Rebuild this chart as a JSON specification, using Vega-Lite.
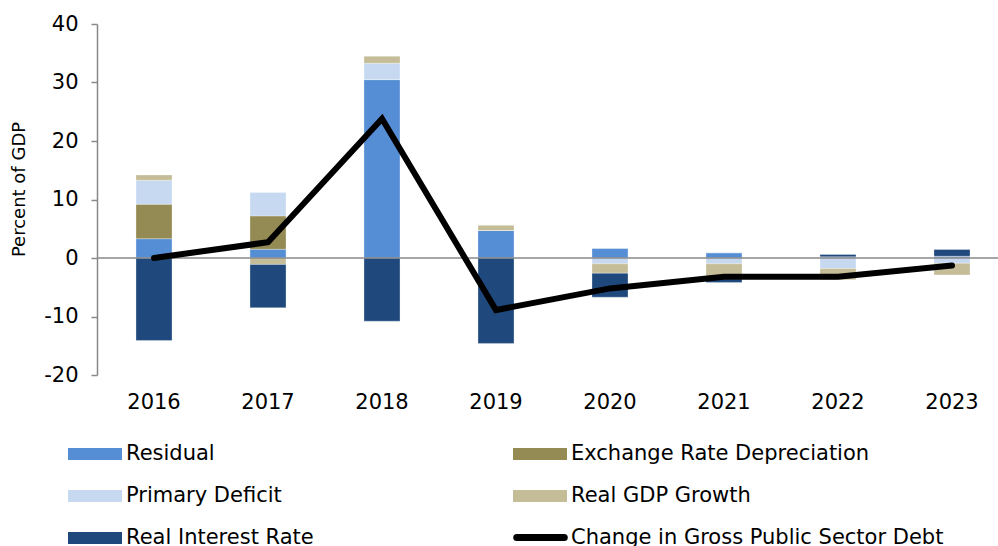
{
  "$schema": "https://vega.github.io/schema/vega-lite/v6.json",
  "autosize": "none",
  "width": 901,
  "height": 351,
  "padding": {"left": 97, "top": 24, "right": 0, "bottom": 171},
  "background": "white",
  "config": {
    "font": "DejaVu Sans",
    "view": {"stroke": null}
  },
  "datasets": {
    "bars": [
      {"year": "2016", "series": "Residual", "ord": 0, "value": 3.3},
      {"year": "2016", "series": "Exchange Rate Depreciation", "ord": 1, "value": 5.9},
      {"year": "2016", "series": "Primary Deficit", "ord": 2, "value": 4.1},
      {"year": "2016", "series": "Real GDP Growth", "ord": 3, "value": 0.9},
      {"year": "2016", "series": "Real Interest Rate", "ord": 4, "value": -14.1},
      {"year": "2017", "series": "Residual", "ord": 0, "value": 1.5},
      {"year": "2017", "series": "Exchange Rate Depreciation", "ord": 1, "value": 5.7},
      {"year": "2017", "series": "Primary Deficit", "ord": 2, "value": 4.0},
      {"year": "2017", "series": "Real GDP Growth", "ord": 3, "value": -1.1},
      {"year": "2017", "series": "Real Interest Rate", "ord": 4, "value": -7.4},
      {"year": "2018", "series": "Residual", "ord": 0, "value": 30.5},
      {"year": "2018", "series": "Exchange Rate Depreciation", "ord": 1, "value": 0},
      {"year": "2018", "series": "Primary Deficit", "ord": 2, "value": 2.8},
      {"year": "2018", "series": "Real GDP Growth", "ord": 3, "value": 1.2},
      {"year": "2018", "series": "Real Interest Rate", "ord": 4, "value": -10.8},
      {"year": "2019", "series": "Residual", "ord": 0, "value": 4.7},
      {"year": "2019", "series": "Exchange Rate Depreciation", "ord": 1, "value": 0},
      {"year": "2019", "series": "Primary Deficit", "ord": 2, "value": 0},
      {"year": "2019", "series": "Real GDP Growth", "ord": 3, "value": 0.9},
      {"year": "2019", "series": "Real Interest Rate", "ord": 4, "value": -14.6},
      {"year": "2020", "series": "Residual", "ord": 0, "value": 1.65},
      {"year": "2020", "series": "Exchange Rate Depreciation", "ord": 1, "value": 0},
      {"year": "2020", "series": "Primary Deficit", "ord": 2, "value": -1.0},
      {"year": "2020", "series": "Real GDP Growth", "ord": 3, "value": -1.6},
      {"year": "2020", "series": "Real Interest Rate", "ord": 4, "value": -4.1},
      {"year": "2021", "series": "Residual", "ord": 0, "value": 0.9},
      {"year": "2021", "series": "Exchange Rate Depreciation", "ord": 1, "value": 0},
      {"year": "2021", "series": "Primary Deficit", "ord": 2, "value": -1.0},
      {"year": "2021", "series": "Real GDP Growth", "ord": 3, "value": -2.6},
      {"year": "2021", "series": "Real Interest Rate", "ord": 4, "value": -0.6},
      {"year": "2022", "series": "Residual", "ord": 0, "value": 0.2},
      {"year": "2022", "series": "Exchange Rate Depreciation", "ord": 1, "value": 0},
      {"year": "2022", "series": "Primary Deficit", "ord": 2, "value": -1.8},
      {"year": "2022", "series": "Real GDP Growth", "ord": 3, "value": -1.9},
      {"year": "2022", "series": "Real Interest Rate", "ord": 4, "value": 0.4},
      {"year": "2023", "series": "Residual", "ord": 0, "value": 0.3},
      {"year": "2023", "series": "Exchange Rate Depreciation", "ord": 1, "value": 0},
      {"year": "2023", "series": "Primary Deficit", "ord": 2, "value": -0.9},
      {"year": "2023", "series": "Real GDP Growth", "ord": 3, "value": -2.0},
      {"year": "2023", "series": "Real Interest Rate", "ord": 4, "value": 1.15}
    ],
    "line": [
      {"year": "2016", "change": 0.0},
      {"year": "2017", "change": 2.7},
      {"year": "2018", "change": 23.8},
      {"year": "2019", "change": -8.9},
      {"year": "2020", "change": -5.2},
      {"year": "2021", "change": -3.2},
      {"year": "2022", "change": -3.2},
      {"year": "2023", "change": -1.3}
    ]
  },
  "encoding": {
    "x": {
      "field": "year",
      "type": "ordinal",
      "scale": {"paddingInner": 0.684, "paddingOuter": 0.342, "rangeMax": 912},
      "axis": {
        "title": null,
        "labelAngle": 0,
        "domain": false,
        "ticks": false,
        "labelFontSize": 21,
        "labelColor": "#000000",
        "labelPadding": 16
      }
    }
  },
  "layer": [
    {
      "data": {"name": "bars"},
      "mark": {"type": "bar", "stroke": "#ffffff", "strokeWidth": 0.5, "strokeOpacity": 0.6},
      "encoding": {
        "y": {
          "field": "value",
          "type": "quantitative",
          "stack": "zero",
          "scale": {"domain": [-20, 40], "nice": false, "zero": false},
          "axis": {
            "title": "Percent of GDP",
            "titleFontSize": 18,
            "titleFontWeight": "normal",
            "titleColor": "#000000",
            "titleAngle": -90,
            "titleX": -78,
            "titleY": 165,
            "titleAlign": "center",
            "titleBaseline": "middle",
            "values": [-20, -10, 0, 10, 20, 30, 40],
            "labelExpr": "'' + datum.value",
            "grid": false,
            "domainColor": "#888888",
            "domainWidth": 1.5,
            "tickColor": "#888888",
            "tickWidth": 1.5,
            "tickSize": 6,
            "labelFontSize": 21,
            "labelColor": "#000000",
            "labelPadding": 13
          }
        },
        "order": {"field": "ord", "type": "quantitative"},
        "fill": {
          "field": "series",
          "type": "nominal",
          "scale": {
            "domain": ["Residual", "Exchange Rate Depreciation", "Primary Deficit", "Real GDP Growth", "Real Interest Rate"],
            "range": ["#558ED5", "#948A54", "#C6D9F1", "#C4BD97", "#1F497D"]
          },
          "legend": {
            "title": null,
            "orient": "none",
            "legendX": -29,
            "legendY": 403,
            "columns": 2,
            "direction": "horizontal",
            "columnPadding": 199,
            "rowPadding": 5,
            "symbolType": "M-1,-0.22H1V0.22H-1Z",
            "symbolSize": 2916,
            "symbolStrokeWidth": 0,
            "labelFontSize": 21,
            "labelColor": "#000000",
            "labelOffset": 4,
            "labelLimit": 500
          }
        }
      }
    },
    {
      "data": {"values": [{"z": 0}]},
      "mark": {"type": "rule", "color": "#888888", "strokeWidth": 1.5},
      "encoding": {"y": {"field": "z", "type": "quantitative"}, "x": null}
    },
    {
      "data": {"name": "line"},
      "mark": {"type": "line", "strokeWidth": 6, "strokeJoin": "miter", "strokeCap": "round"},
      "encoding": {
        "y": {"field": "change", "type": "quantitative"},
        "stroke": {
          "datum": "Change in Gross Public Sector Debt",
          "scale": {"domain": ["Change in Gross Public Sector Debt"], "range": ["#000000"]},
          "legend": {
            "title": null,
            "orient": "none",
            "legendX": 413,
            "legendY": 483,
            "symbolType": "M-0.88,0H0.88",
            "symbolSize": 2916,
            "symbolStrokeWidth": 7,
            "symbolStrokeColor": "#000000",
            "labelFontSize": 21,
            "labelColor": "#000000",
            "labelOffset": 0,
            "labelLimit": 500,
            "encode": {"symbols": {"update": {"strokeCap": {"value": "round"}}}}
          }
        }
      }
    }
  ],
  "resolve": {"legend": {"fill": "independent", "stroke": "independent"}}
}
